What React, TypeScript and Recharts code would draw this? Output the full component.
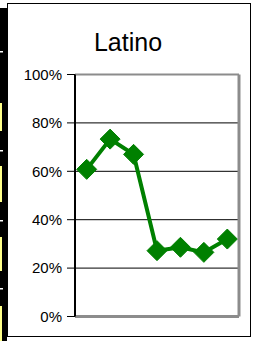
import React from "react";
import { LineChart, Line, XAxis, YAxis, CartesianGrid } from "recharts";

const categories = ["1", "2", "3", "4", "5", "6", "7"];
const latinoValues = [60.8, 73.3, 67.0, 27.2, 28.6, 26.5, 32.0];
const yTicks = [0, 20, 40, 60, 80, 100];
const title = "Latino";

const data = categories.map((c, i) => ({ name: c, value: latinoValues[i] }));

const GREEN = "#008000";
const FONT = "'Liberation Sans', Arial, sans-serif";

const Diamond = (props: any) => {
  const { cx, cy } = props;
  if (cx == null || cy == null) return null;
  const r = 10;
  return (
    <polygon
      points={`${cx},${cy - r} ${cx + r},${cy} ${cx},${cy + r} ${cx - r},${cy}`}
      fill={GREEN}
      stroke={GREEN}
      strokeWidth={1}
    />
  );
};

export default function App() {
  return (
    <div style={{ position: "absolute", left: 0, top: 0, width: 257, height: 341, background: "#fff", overflow: "hidden" }}>
      <svg width={257} height={341} style={{ position: "absolute", left: 0, top: 0 }}>
        <rect x={0} y={8} width={7} height={333} fill="#000" />
        <rect x={0} y={51} width={3} height={1.5} fill="#fff" />
        <rect x={0} y={103} width={2} height={28} fill="#ffff88" />
        <rect x={0} y={150} width={3} height={1.5} fill="#fff" />
        <rect x={0} y={166} width={2} height={36} fill="#ffff88" />
        <rect x={0} y={220} width={3} height={1.5} fill="#fff" />
        <rect x={0} y={237} width={2} height={34} fill="#ffff88" />
        <rect x={0} y={288} width={3} height={1.5} fill="#fff" />
        <rect x={0} y={306} width={2} height={35} fill="#ffff88" />
        <rect x={7.5} y={3.5} width={243} height={333} fill="#fff" stroke="#000" strokeWidth={1} />
        <text x={128} y={51} textAnchor="middle" fontFamily={FONT} fontSize={25} fill="#000">
          {title}
        </text>
      </svg>
      <div style={{ position: "absolute", left: 0, top: 0 }}>
        <LineChart
          width={257}
          height={341}
          data={data}
          margin={{ top: 73.5, right: 17, bottom: 23.5, left: 0 }}
        >
          <CartesianGrid vertical={false} stroke="#000" strokeWidth={1} horizontalValues={yTicks} />
          <XAxis
            dataKey="name"
            height={1}
            tick={false}
            tickLine={false}
            axisLine={{ stroke: "#8c8c8c", strokeWidth: 3 }}
            padding={{ left: 11.7, right: 11.7 }}
          />
          <XAxis
            xAxisId="top"
            orientation="top"
            dataKey="name"
            height={1}
            tick={false}
            tickLine={false}
            axisLine={{ stroke: "#8c8c8c", strokeWidth: 2 }}
          />
          <YAxis
            yAxisId="right"
            orientation="right"
            width={1}
            tick={false}
            tickLine={false}
            domain={[0, 100]}
            axisLine={{ stroke: "#8c8c8c", strokeWidth: 3 }}
          />
          <YAxis
            width={75}
            domain={[0, 100]}
            ticks={yTicks}
            tickFormatter={(v: number) => `${v}%`}
            tickSize={8}
            tickMargin={5}
            interval={0}
            axisLine={{ stroke: "#000", strokeWidth: 2 }}
            tickLine={{ stroke: "#000", strokeWidth: 1 }}
            tick={{ fill: "#000", fontSize: 15, fontFamily: FONT }}
          />
          <Line
            type="linear"
            dataKey="value"
            stroke={GREEN}
            strokeWidth={4}
            dot={<Diamond />}
            activeDot={false}
            isAnimationActive={false}
          />
        </LineChart>
      </div>
    </div>
  );
}
